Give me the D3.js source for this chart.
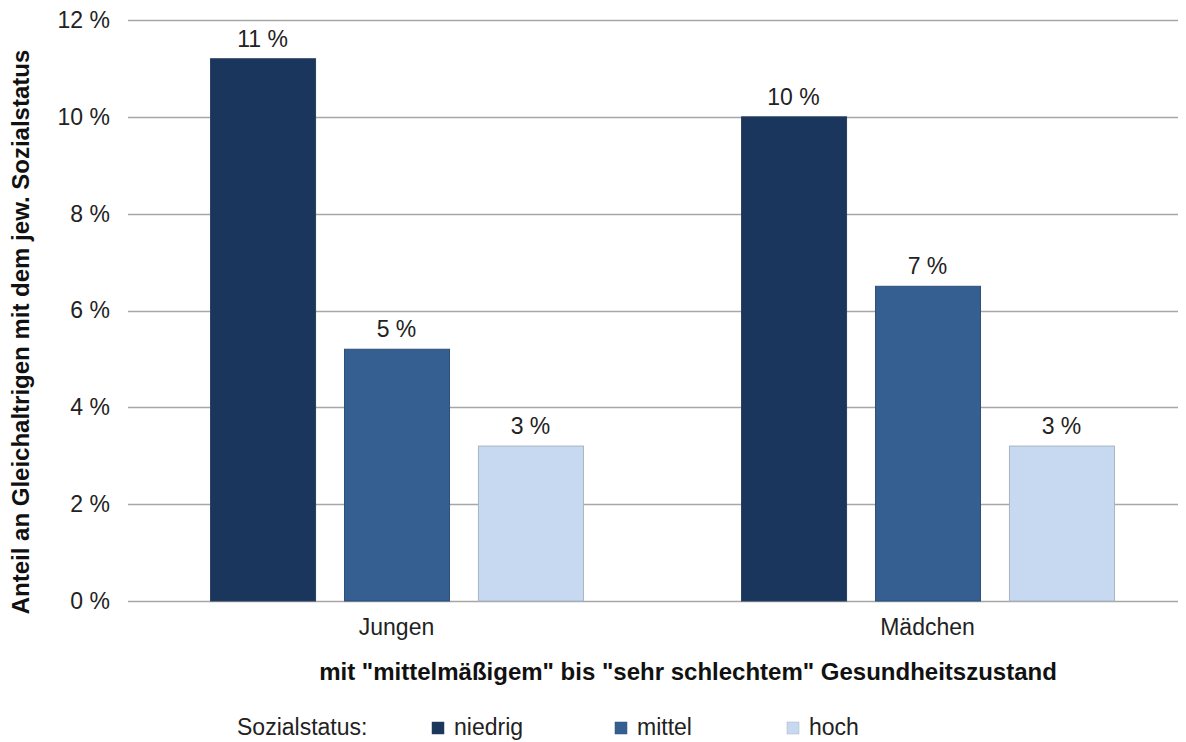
<!DOCTYPE html>
<html><head><meta charset="utf-8">
<script src="https://cdn.jsdelivr.net/npm/d3@7"></script>
<style>body{margin:0;background:#fff;}svg{display:block;font-family:"Liberation Sans",Arial,sans-serif;}</style>
</head><body>
<svg id="c" width="1186" height="742"></svg>
<script>
const categories = ["Jungen", "Mädchen"];
const series = ["niedrig", "mittel", "hoch"];
const niedrig = [11.2, 10.0];
const mittel = [5.2, 6.5];
const hoch = [3.2, 3.2];
const yTicks = [0, 2, 4, 6, 8, 10, 12];
const colors = ["#1b365d", "#355f91", "#c6d9f0"];
const strokes = ["#2a3f5f", "#2f4f78", "#a8b4c4"];
const valuesBySeries = [niedrig, mittel, hoch];

const FS = 23;
const svg = d3.select("#c");
const x0 = d3.scaleBand().domain(categories).range([131, 1193]).paddingInner(0).paddingOuter(0);
const x1 = d3.scaleBand().domain(series).range([0, x0.bandwidth()]).paddingInner(0.216).paddingOuter(0.59);
const y = d3.scaleLinear().domain([0, 12]).range([601, 20]);

// gridlines
svg.append("g").selectAll("line").data(yTicks).join("line")
  .attr("x1", 128).attr("x2", 1178)
  .attr("y1", d => Math.round(y(d)) + 0.5).attr("y2", d => Math.round(y(d)) + 0.5)
  .attr("stroke", "#a6a6a6").attr("stroke-width", 1.6);

// y axis labels
const yAxis = d3.axisLeft(y).tickValues(yTicks).tickFormat(d => d + " %").tickSize(0).tickPadding(18);
const ga = svg.append("g").attr("transform", "translate(128,0)").call(yAxis);
ga.select(".domain").remove();
ga.selectAll("text").attr("font-size", FS).attr("fill", "#222").attr("font-family", "Liberation Sans, Arial, sans-serif");

// bars
const data = [];
categories.forEach((c, ci) => series.forEach((s, si) => data.push({c, s, si, v: valuesBySeries[si][ci]})));
svg.append("g").selectAll("rect").data(data).join("rect")
  .attr("x", d => x0(d.c) + x1(d.s) + 0.5)
  .attr("y", d => y(d.v))
  .attr("width", x1.bandwidth())
  .attr("height", d => y(0) - y(d.v))
  .attr("fill", d => colors[d.si])
  .attr("stroke", d => strokes[d.si]).attr("stroke-width", 1);

// value labels
svg.append("g").selectAll("text").data(data).join("text")
  .attr("x", d => x0(d.c) + x1(d.s) + x1.bandwidth() / 2)
  .attr("y", d => y(d.v) - 12)
  .attr("text-anchor", "middle").attr("font-size", FS).attr("fill", "#222")
  .text(d => Math.round(d.v) + " %");

// x category labels
const xAxis = d3.axisBottom(x0).tickSize(0).tickPadding(18);
const gx = svg.append("g").attr("transform", "translate(0,601)").call(xAxis);
gx.select(".domain").remove();
gx.selectAll("text").attr("font-size", FS).attr("fill", "#222").attr("font-family", "Liberation Sans, Arial, sans-serif");

// axis titles
svg.append("text").attr("x", 688).attr("y", 680).attr("text-anchor", "middle")
  .attr("font-size", 24).attr("font-weight", "bold").attr("fill", "#111")
  .text('mit "mittelmäßigem" bis "sehr schlechtem" Gesundheitszustand');
svg.append("text").attr("transform", "translate(29,332) rotate(-90)").attr("text-anchor", "middle")
  .attr("font-size", 24).attr("font-weight", "bold").attr("fill", "#111")
  .text("Anteil an Gleichaltrigen mit dem jew. Sozialstatus");

// legend
svg.append("text").attr("x", 237).attr("y", 735).attr("font-size", FS).attr("fill", "#222").text("Sozialstatus:");
const legX = [432, 615, 787];
const lg = svg.append("g").selectAll("g").data(series).join("g")
  .attr("transform", (d, i) => `translate(${legX[i]},0)`);
lg.append("rect").attr("x", 0).attr("y", 722).attr("width", 12).attr("height", 12)
  .attr("fill", (d, i) => colors[i]).attr("stroke", (d, i) => strokes[i]).attr("stroke-width", 0.5);
lg.append("text").attr("x", 22).attr("y", 735).attr("font-size", FS).attr("fill", "#222").text(d => d);
</script>
</body></html>
